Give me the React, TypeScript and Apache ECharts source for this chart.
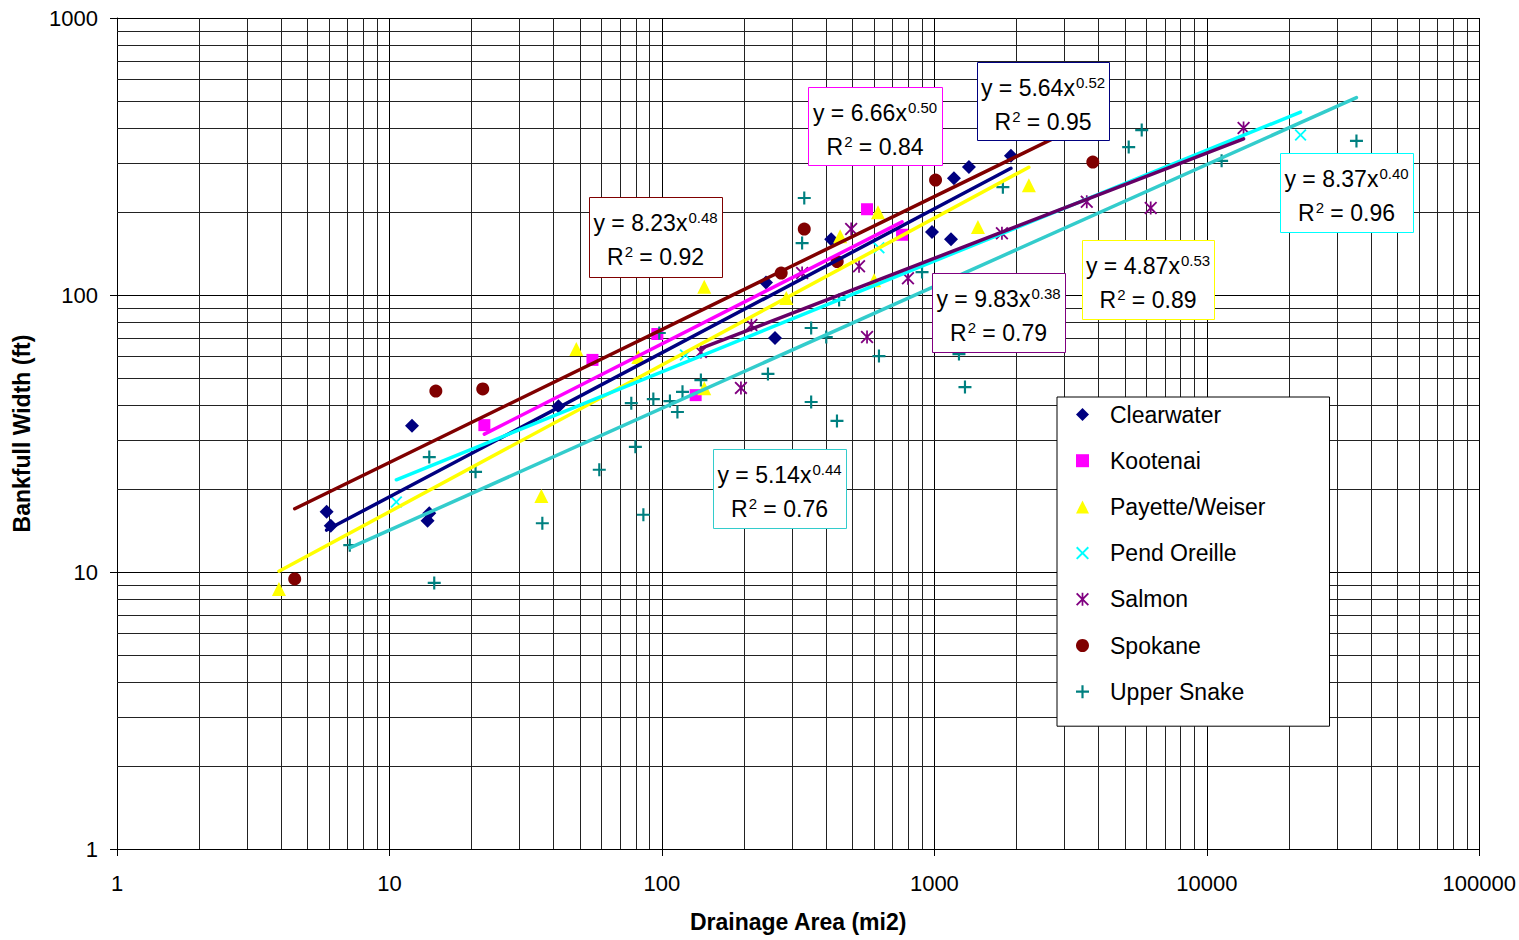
import React, { useEffect, useRef } from 'react';
import * as echarts from 'echarts';

// ---------------- data ----------------
const seriesNames = ['Clearwater', 'Kootenai', 'Payette/Weiser', 'Pend Oreille', 'Salmon', 'Spokane', 'Upper Snake'];

const clearwaterArea = [5.88, 6.09, 12.1, 13.8, 14.0, 41.7, 241, 260, 418, 980, 1151, 1180, 1339, 1910];
const clearwaterWidth = [16.5, 14.7, 33.7, 15.3, 16.3, 39.7, 111, 70, 159, 169, 159, 264, 290, 318];

const kootenaiArea = [22.3, 55.6, 96.2, 133, 566, 761];
const kootenaiWidth = [33.9, 58.3, 72.3, 43.5, 204, 165];

const payetteArea = [3.93, 36.1, 48.5, 81.9, 143, 143, 286, 451, 601, 621, 1445, 2222];
const payetteWidth = [8.68, 18.8, 63.9, 59.7, 107, 46.1, 97.5, 163, 113, 199, 176, 249];

const pendOreilleArea = [10.6, 122, 626, 22080];
const pendOreilleWidth = [17.9, 60.7, 148, 378];

const salmonArea = [139, 195, 213, 327, 495, 529, 566, 800, 1770, 3625, 6223, 13640];
const salmonWidth = [62.3, 46.2, 77.9, 120, 173, 127, 70.5, 115, 167, 217, 206, 401];

const spokaneArea = [4.49, 14.8, 22.0, 274, 333, 440, 1010, 3815];
const spokaneWidth = [9.44, 45.0, 45.8, 120, 173, 132, 260, 302];

const upperSnakeArea = [7.15, 14.0, 14.6, 20.7, 36.4, 58.9, 77.2, 79.9, 85.5, 93.0, 97.8, 107, 114, 119, 139, 245, 327, 333, 353, 353, 401, 439, 447, 626, 901, 1231, 1295, 1784, 5167, 5768, 11330, 35410];
const upperSnakeWidth = [12.5, 26.0, 9.13, 23.0, 15.0, 23.4, 40.7, 28.3, 16.1, 42.1, 72.9, 41.4, 37.8, 44.7, 49.3, 51.9, 154, 224, 76.0, 41.1, 70.5, 35.1, 95.9, 60.2, 121, 61.2, 46.5, 245, 342, 394, 305, 360];

// power-law trendlines y = a * x^b
const trendCoef = [5.64, 6.66, 4.87, 8.37, 9.83, 8.23, 5.14];
const trendExp = [0.52, 0.50, 0.53, 0.40, 0.38, 0.48, 0.44];
const trendR2 = [0.95, 0.84, 0.89, 0.96, 0.79, 0.92, 0.76];

// axis
const xMin = 1;
const xMax = 100000;
const yMin = 1;
const yMax = 1000;
const xDecades = [1, 10, 100, 1000, 10000];
const yDecades = [1, 10, 100];
const minorSteps = [2, 3, 4, 5, 6, 7, 8, 9];

// ---------------- styles ----------------
const FONT = '"Liberation Sans", Arial, Helvetica, sans-serif';
const markerColors = ['#000080', '#FF00FF', '#FFFF00', '#00FFFF', '#800080', '#800000', '#008080'];
const trendColors = ['#000080', '#FF00FF', '#FFFF00', '#00FFFF', '#660066', '#800000', '#33CCCC'];
const boxColors = ['#000080', '#FF00FF', '#FFFF00', '#00FFFF', '#800080', '#800000', '#33CCCC'];

const plusPath = 'path://M5,0H7V5H12V7H7V12H5V7H0V5H5Z';
const xPath = 'path://M0,1.3L1.3,0L6,4.7L10.7,0L12,1.3L7.3,6L12,10.7L10.7,12L6,7.3L1.3,12L0,10.7L4.7,6Z';
const starPath = 'path://M0,1.2L1.2,0L6,4.8L10.8,0L12,1.2L7.2,6L12,10.8L10.8,12L6,7.2L1.2,12L0,10.8L4.8,6Z M5.2,0H6.8V12H5.2Z';
const symbols = ['diamond', 'rect', 'triangle', xPath, starPath, 'circle', plusPath];
const symbolSizes = [14, 12, 14, 12, 13, 13, 13];

// equation label boxes: [left, top, width, height]
const boxLayout = [
  [977, 62, 132, 78],
  [808, 87, 134, 78],
  [1082, 240, 132, 79],
  [1280, 153, 133, 79],
  [932, 273, 133, 79],
  [589, 197, 133, 80],
  [713, 449, 133, 79],
];

function buildOption() {
  const areas = [clearwaterArea, kootenaiArea, payetteArea, pendOreilleArea, salmonArea, spokaneArea, upperSnakeArea];
  const widths = [clearwaterWidth, kootenaiWidth, payetteWidth, pendOreilleWidth, salmonWidth, spokaneWidth, upperSnakeWidth];

  const scatterSeries = seriesNames.map((name, i) => ({
    name,
    type: 'scatter',
    data: areas[i].map((a, j) => [a, widths[i][j]]),
    symbol: symbols[i],
    symbolSize: symbolSizes[i],
    itemStyle: { color: markerColors[i], opacity: 1 },
    z: 3,
    silent: true,
  }));

  const trendSeries = seriesNames.map((name, i) => {
    const lo = Math.min(...areas[i]);
    const hi = Math.max(...areas[i]);
    const f = (x: number) => trendCoef[i] * Math.pow(x, trendExp[i]);
    return {
      name: name + ' trend',
      type: 'line',
      data: [[lo, f(lo)], [hi, f(hi)]],
      showSymbol: false,
      symbol: 'none',
      lineStyle: { color: trendColors[i], width: 3.5, cap: 'round' },
      z: 4,
      silent: true,
    };
  });

  const vMinor: number[][] = [];
  xDecades.forEach((d) => minorSteps.forEach((s) => vMinor.push([d * s, yMin])));
  const hMinor: number[][] = [];
  yDecades.forEach((d) => minorSteps.forEach((s) => hMinor.push([xMin, d * s])));

  const gridSeries = [
    {
      name: 'vgrid',
      type: 'custom',
      silent: true,
      z: 1,
      data: vMinor,
      renderItem: (params: any, api: any) => {
        const p = api.coord([api.value(0), api.value(1)]);
        const cs = params.coordSys;
        const x = Math.round(p[0]) + 0.5;
        return { type: 'line', shape: { x1: x, y1: cs.y, x2: x, y2: cs.y + cs.height }, style: { stroke: '#222', lineWidth: 1 } };
      },
    },
    {
      name: 'hgrid',
      type: 'custom',
      silent: true,
      z: 1,
      data: hMinor,
      renderItem: (params: any, api: any) => {
        const p = api.coord([api.value(0), api.value(1)]);
        const cs = params.coordSys;
        const y = Math.round(p[1]) + 0.5;
        return { type: 'line', shape: { x1: cs.x, y1: y, x2: cs.x + cs.width, y2: y }, style: { stroke: '#222', lineWidth: 1 } };
      },
    },
  ];

  const graphics: any[] = [];
  seriesNames.forEach((_, i) => {
    const [l, t, w, h] = boxLayout[i];
    graphics.push({
      type: 'rect',
      z: 100,
      silent: true,
      shape: { x: l + 0.5, y: t + 0.5, width: w, height: h },
      style: { fill: '#fff', stroke: boxColors[i], lineWidth: 1 },
    });
    graphics.push({
      type: 'text',
      z: 101,
      silent: true,
      x: l + w / 2,
      y: t + 9.25,
      style: {
        text: `{m|y = ${trendCoef[i].toFixed(2)}x}{s|${trendExp[i].toFixed(2)}}\n{m|R}{s|2}{m| = ${trendR2[i].toFixed(2)}}`,
        align: 'center',
        verticalAlign: 'top',
        fill: '#000',
        fontSize: 23,
        fontFamily: FONT,
        lineHeight: 33.5,
        rich: {
          m: { fontSize: 23, fontFamily: FONT, fill: '#000', lineHeight: 33.5, verticalAlign: 'middle' },
          s: { fontSize: 15, fontFamily: FONT, fill: '#000', verticalAlign: 'top', padding: [4, 0, 0, 1] },
        },
      },
    });
  });

  const axisCommon = {
    type: 'log',
    logBase: 10,
    axisLine: { show: true, lineStyle: { color: '#000', width: 1 } },
    axisTick: { show: true, length: 7, lineStyle: { color: '#000', width: 1 } },
    splitLine: { show: true, lineStyle: { color: '#000', width: 1 } },
    minorTick: { show: false },
    minorSplitLine: { show: false },
    nameLocation: 'middle',
    nameTextStyle: { fontSize: 23, fontWeight: 'bold', fontFamily: FONT, color: '#000' },
  };

  return {
    animation: false,
    backgroundColor: '#fff',
    grid: { left: 117, top: 18, width: 1364, height: 831, containLabel: false },
    xAxis: {
      ...axisCommon,
      min: xMin,
      max: xMax,
      name: 'Drainage Area (mi2)',
      nameGap: 61,
      axisLabel: { fontSize: 22, color: '#000', fontFamily: FONT, margin: 23, formatter: (v: number) => String(Math.round(v)) },
    },
    yAxis: {
      ...axisCommon,
      min: yMin,
      max: yMax,
      name: 'Bankfull Width (ft)',
      nameRotate: 90,
      nameGap: 84,
      axisLabel: { fontSize: 22, color: '#000', fontFamily: FONT, margin: 19, formatter: (v: number) => String(Math.round(v)) },
    },
    legend: {
      data: seriesNames,
      orient: 'vertical',
      left: 1057,
      top: 397,
      padding: [6, 64, 23, 19],
      itemGap: 23.2,
      itemWidth: 13,
      itemHeight: 13,
      backgroundColor: '#fff',
      borderColor: '#000',
      borderWidth: 1,
      borderRadius: 0,
      selectedMode: false,
      textStyle: { fontSize: 23, fontFamily: FONT, color: '#000', padding: [0, 0, 0, 16] },
    },
    graphic: graphics,
    series: [...gridSeries, ...scatterSeries, ...trendSeries],
  };
}

export default function App() {
  const ref = useRef<HTMLDivElement>(null);
  useEffect(() => {
    const chart = echarts.init(ref.current!, null, { renderer: 'svg' });
    chart.setOption(buildOption() as any);
    return () => chart.dispose();
  }, []);
  return (
    <div
      ref={ref}
      style={{ position: 'fixed', left: 0, top: 0, width: 1519, height: 940, background: '#fff' }}
    />
  );
}
